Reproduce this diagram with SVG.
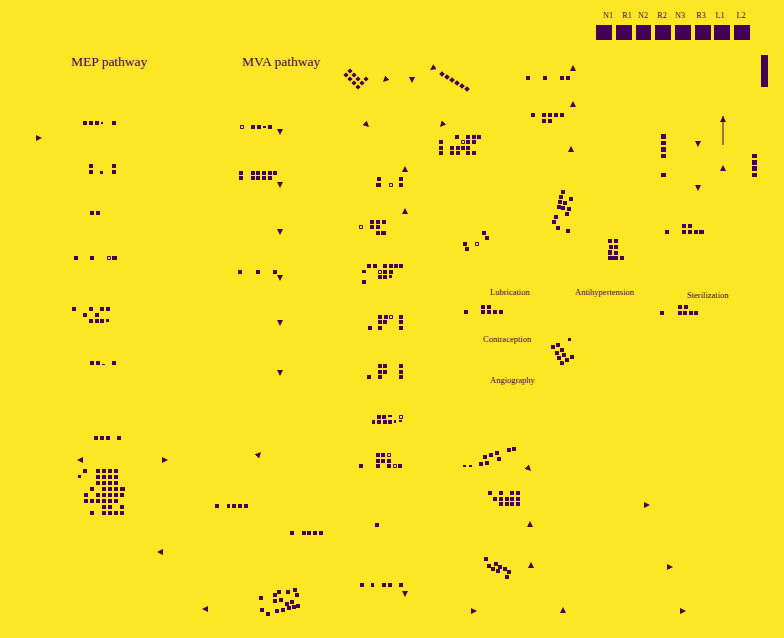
<svg xmlns="http://www.w3.org/2000/svg" width="784" height="638" viewBox="0 0 784 638">
<style>
.c{fill:#440154}
.h{fill:none;stroke:#440154;stroke-width:1}
.t{font-family:"Liberation Serif","Times New Roman",serif;fill:#440154}
.ln{fill:none;stroke:#fbe426;stroke-width:1}
.lv{fill:none;stroke:#440154;stroke-width:1}
</style>
<defs>
<marker id="ah" viewBox="0 0 6 6" refX="6" refY="3" markerWidth="6" markerHeight="6" orient="auto" markerUnits="userSpaceOnUse"><path d="M0,0L6,3L0,6z" fill="#440154"/></marker>
</defs>
<rect width="784" height="638" fill="#fde725"/>

<g id="legend">
<path class="c" d="M596,25h16v15h-16z M616,25h16v15h-16z M636,25h15v15h-15z M655,25h16v15h-16z M675,25h16v15h-16z M695,25h16v15h-16z M714,25h16v15h-16z M734,25h16v15h-16z"/>
<g class="t" font-size="8" text-anchor="middle">
<text x="608" y="18">N1</text><text x="627" y="18">R1</text><text x="643" y="18">N2</text><text x="662" y="18">R2</text><text x="680" y="18">N3</text><text x="701" y="18">R3</text><text x="720" y="18">L1</text><text x="741" y="18">L2</text>
</g>
<rect class="c" x="761" y="55" width="7" height="32"/>
</g>

<g id="titles" class="t" font-size="13.5">
<text x="71" y="66">MEP pathway</text>
<text x="242" y="66">MVA pathway</text>
</g>

<g id="mep1"><path class="c" d="M83,121h4v4h-4z M89,121h4v4h-4z M95,121h4v4h-4z M101,122h2v2h-2z M112,121h4v4h-4z"/></g>
<g id="mep2"><path class="c" d="M89,164h4v4h-4z M112,164h4v4h-4z M89,170h4v4h-4z M100,171h3v3h-3z M112,170h4v4h-4z"/></g>
<g id="mep3"><path class="c" d="M90,211h4v4h-4z M96,211h4v4h-4z"/></g>
<g id="mep4"><path class="c" d="M74,256h4v4h-4z M90,256h4v4h-4z M112,256h5v4h-5z"/><path class="h" d="M107.5,256.5h3v3h-3z"/></g>
<g id="mep5"><path class="c" d="M72,307h4v4h-4z M89,307h4v4h-4z M100,307h4v4h-4z M106,307h4v4h-4z M83,313h4v4h-4z M95,313h4v4h-4z M89,319h4v4h-4z M95,319h4v4h-4z M100,319h4v4h-4z M106,319h3v3h-3z"/></g>
<g id="mep6"><path class="c" d="M90,361h4v4h-4z M96,361h4v4h-4z M112,361h4v4h-4z M102,364h3v1h-3z"/></g>
<g id="mep7"><path class="c" d="M94,436h4v4h-4z M100,436h4v4h-4z M106,436h4v4h-4z M117,436h4v4h-4z"/></g>
<g id="mep8"><path class="c" d="M83,469h4v4h-4z M96,469h4v4h-4z M102,469h4v4h-4z M108,469h4v4h-4z M114,469h4v4h-4z
M78,475h3v3h-3z M96,475h4v4h-4z M102,475h4v4h-4z M108,475h4v4h-4z M114,475h4v4h-4z
M96,481h4v4h-4z M102,481h4v4h-4z M108,481h4v4h-4z M114,481h4v4h-4z
M90,487h4v4h-4z M102,487h4v4h-4z M108,487h4v4h-4z M114,487h4v4h-4z M120,487h5v4h-5z
M84,493h4v4h-4z M96,493h4v4h-4z M102,493h4v4h-4z M108,493h4v4h-4z M114,493h4v4h-4z M120,493h4v4h-4z
M84,499h4v4h-4z M90,499h4v4h-4z M96,499h4v4h-4z M102,499h4v4h-4z M108,499h4v4h-4z M114,499h4v4h-4z
M102,505h4v4h-4z M108,505h4v4h-4z M120,505h4v4h-4z
M90,511h4v4h-4z M102,511h4v4h-4z M108,511h4v4h-4z M114,511h4v4h-4z M120,511h4v4h-4z"/></g>
<g id="mid1"><path class="c" d="M215,504h4v4h-4z M227,504h3v4h-3z M232,504h4v4h-4z M238,504h4v4h-4z M244,504h4v4h-4z"/></g>
<g id="mid2"><path class="c" d="M290,531h4v4h-4z M302,531h4v4h-4z M307,531h4v4h-4z M313,531h4v4h-4z M319,531h4v4h-4z"/></g>
<g id="cluster-bl"><path class="c" d="M259,596h4v4h-4z M273,593h4v4h-4z M277,590h4v4h-4z M286,590h4v4h-4z M293,588h4v4h-4z M295,593h4v4h-4z M273,599h4v4h-4z M279,598h4v4h-4z M285,602h4v4h-4z M290,600h4v4h-4z M296,604h4v4h-4z M260,608h4v4h-4z M266,612h4v4h-4z M275,609h4v4h-4z M281,608h4v4h-4z M287,606h4v4h-4z M292,605h4v4h-4z"/></g>

<g id="mva1"><path class="c" d="M251,125h4v4h-4z M257,125h4v4h-4z M263,126h3v2h-3z M268,125h4v4h-4z"/><path class="h" d="M240.5,125.5h3v3h-3z"/></g>
<g id="mva2"><path class="c" d="M239,171h4v4h-4z M251,171h4v4h-4z M256,171h4v4h-4z M262,171h4v4h-4z M268,171h4v4h-4z M273,171h4v4h-4z M239,176h4v4h-4z M251,176h4v4h-4z M256,176h4v4h-4z M262,176h4v4h-4z M268,176h4v4h-4z"/></g>
<g id="mva3"><path class="c" d="M238,270h4v4h-4z M256,270h4v4h-4z M273,270h4v4h-4z"/></g>

<g id="diamond-top"><path class="c" d="M350,68.4l2.6,2.6l-2.6,2.6l-2.6,-2.6z M346,72.4l2.6,2.6l-2.6,2.6l-2.6,-2.6z M354,72.4l2.6,2.6l-2.6,2.6l-2.6,-2.6z M350,76.4l2.6,2.6l-2.6,2.6l-2.6,-2.6z M358,76.4l2.6,2.6l-2.6,2.6l-2.6,-2.6z M366,76.4l2.6,2.6l-2.6,2.6l-2.6,-2.6z M354,80.4l2.6,2.6l-2.6,2.6l-2.6,-2.6z M362,80.4l2.6,2.6l-2.6,2.6l-2.6,-2.6z M358,84.4l2.6,2.6l-2.6,2.6l-2.6,-2.6z"/></g>
<g id="chain"><path class="c" d="M442,71.2l2.8,2.8l-2.8,2.8l-2.8,-2.8z M447,74.2l2.8,2.8l-2.8,2.8l-2.8,-2.8z M452,77.2l2.8,2.8l-2.8,2.8l-2.8,-2.8z M457,80.2l2.8,2.8l-2.8,2.8l-2.8,-2.8z M462,83.2l2.8,2.8l-2.8,2.8l-2.8,-2.8z M467,86.2l2.8,2.8l-2.8,2.8l-2.8,-2.8z"/></g>

<g id="c1"><path class="c" d="M455,135h4v4h-4z M466,135h4v4h-4z M472,135h4v4h-4z M477,135h4v4h-4z M439,140h4v4h-4z M466,140h4v4h-4z M472,140h4v4h-4z M439,146h4v4h-4z M450,146h4v4h-4z M456,146h4v4h-4z M461,146h4v4h-4z M466,146h4v4h-4z M439,151h4v4h-4z M450,151h4v4h-4z M456,151h4v4h-4z M466,151h4v4h-4z M472,151h4v4h-4z"/><path class="h" d="M461.5,140.5h3v3h-3z"/></g>
<g id="c2"><path class="c" d="M526,76h4v4h-4z M543,76h4v4h-4z M560,76h4v4h-4z M566,76h4v4h-4z"/></g>
<g id="c3"><path class="c" d="M531,113h4v4h-4z M542,113h4v4h-4z M548,113h4v4h-4z M554,113h4v4h-4z M560,113h4v4h-4z M542,119h4v4h-4z M548,119h4v4h-4z"/></g>
<g id="c4"><path class="c" d="M377,177h4v4h-4z M399,177h4v4h-4z M376,183h5v4h-5z M399,183h4v4h-4z"/><path class="h" d="M389.5,183.5h3v3h-3z"/></g>
<g id="c5"><path class="c" d="M370,220h4v4h-4z M376,220h4v4h-4z M382,220h4v4h-4z M370,225h4v4h-4z M376,225h4v4h-4z M376,231h4v4h-4z M381,231h5v4h-5z"/><path class="h" d="M359.5,225.5h3v3h-3z"/></g>
<g id="c6"><path class="c" d="M367,264h4v4h-4z M373,264h4v4h-4z M383,264h4v4h-4z M389,264h4v4h-4z M394,264h4v4h-4z M399,264h4v4h-4z M362,270h4v3h-4z M383,270h4v4h-4z M389,270h4v4h-4z M378,275h4v4h-4z M383,275h4v4h-4z M389,275h3v3h-3z M362,280h4v4h-4z"/><path class="h" d="M378.5,270.5h3v3h-3z"/></g>
<g id="c7"><path class="c" d="M378,315h4v4h-4z M384,315h4v4h-4z M399,315h4v4h-4z M378,320h4v4h-4z M383,320h4v4h-4z M399,320h4v4h-4z M368,326h4v4h-4z M378,326h4v4h-4z M399,326h4v4h-4z"/><path class="h" d="M389.5,315.5h3v3h-3z"/></g>
<g id="c8"><path class="c" d="M378,364h4v4h-4z M383,364h4v4h-4z M399,364h4v4h-4z M378,370h4v4h-4z M383,370h4v4h-4z M399,370h4v4h-4z M367,375h4v4h-4z M378,375h4v4h-4z M399,375h4v4h-4z"/></g>
<g id="c9"><path class="c" d="M377,415h4v4h-4z M382,415h4v4h-4z M388,415h4v2h-4z M372,420h3v4h-3z M377,420h4v4h-4z M383,420h4v4h-4z M388,420h4v4h-4z M394,420h2v3h-2z M399,420h3v2h-3z"/><path class="h" d="M399.5,415.5h3v3h-3z"/></g>
<g id="c10"><path class="c" d="M376,453h4v4h-4z M381,453h4v4h-4z M376,459h4v4h-4z M381,459h4v4h-4z M387,459h4v4h-4z M359,464h4v4h-4z M376,464h4v4h-4z M387,464h4v4h-4z M398,464h4v4h-4z"/><path class="h" d="M387.5,453.5h3v3h-3z M393.5,464.5h3v3h-3z"/></g>
<g id="c11"><path class="c" d="M375,523h4v4h-4z"/></g>
<g id="c12"><path class="c" d="M360,583h4v4h-4z M371,583h3v4h-3z M382,583h4v4h-4z M388,583h4v4h-4z M399,583h4v4h-4z"/></g>

<g id="diag1"><path class="c" d="M561,190h4v4h-4z M559,195h4v4h-4z M569,197h4v4h-4z M558,200h4v4h-4z M563,201h4v4h-4z M557,205h4v4h-4z M561,206h4v4h-4z M567,207h4v4h-4z M565,212h4v4h-4z M554,215h4v4h-4z M552,220h4v4h-4z M556,226h4v4h-4z M566,229h4v4h-4z"/></g>
<g id="cluster-s"><path class="c" d="M482,231h4v4h-4z M485,236h4v4h-4z M463,242h4v4h-4z M465,247h4v4h-4z"/><path class="h" d="M475.5,242.5h3v3h-3z"/></g>
<g id="r1"><path class="c" d="M661,134h5v5h-5z M661,141h5v4h-5z M661,147h5v5h-5z M661,154h5v4h-5z M661,173h5v4h-5z"/></g>
<g id="r2"><path class="c" d="M752,154h5v4h-5z M752,160h5v5h-5z M752,166h5v5h-5z M752,173h5v4h-5z"/></g>
<g id="r3"><path class="c" d="M682,224h4v4h-4z M688,224h4v4h-4z M665,230h4v4h-4z M682,230h4v4h-4z M688,230h4v4h-4z M694,230h4v4h-4z M699,230h5v4h-5z"/></g>
<g id="r4"><path class="c" d="M608,239h4v4h-4z M614,239h4v4h-4z M609,245h4v4h-4z M614,245h4v4h-4z M608,250h4v5h-4z M614,251h4v4h-4z M608,256h10v4h-10z M620,256h4v4h-4z"/></g>
<g id="r5"><path class="c" d="M481,305h4v4h-4z M487,305h4v4h-4z M464,310h4v4h-4z M481,310h4v4h-4z M487,310h4v4h-4z M493,310h4v4h-4z M499,310h4v4h-4z"/></g>
<g id="r6"><path class="c" d="M678,305h4v4h-4z M684,305h4v4h-4z M660,311h4v4h-4z M678,311h4v4h-4z M683,311h4v4h-4z M689,311h4v4h-4z M694,311h4v4h-4z"/></g>
<g id="diag2"><path class="c" d="M551,345h4v4h-4z M556,343h4v4h-4z M560,348h4v4h-4z M555,351h4v4h-4z M562,353h4v4h-4z M557,356h4v4h-4z M565,358h4v4h-4z M560,361h4v4h-4z M570,355h4v4h-4z M568,338h3v3h-3z"/></g>
<g id="diag3"><path class="c" d="M483,455h4v4h-4z M489,453h4v4h-4z M495,451h4v4h-4z M497,457h4v4h-4z M485,461h4v4h-4z M479,462h4v4h-4z M507,448h4v4h-4z M512,447h4v4h-4z M463,465h3v2h-3z M469,465h3v2h-3z"/></g>
<g id="r7"><path class="c" d="M488,491h4v4h-4z M499,491h4v4h-4z M510,491h4v4h-4z M516,491h4v4h-4z M493,497h4v4h-4z M499,497h4v4h-4z M505,497h4v4h-4z M510,497h4v4h-4z M516,497h4v4h-4z M499,502h4v4h-4z M505,502h4v4h-4z M510,502h4v4h-4z M516,502h4v4h-4z"/></g>
<g id="diag4"><path class="c" d="M484,557h4v4h-4z M487,564h4v4h-4z M494,562h4v4h-4z M491,567h4v4h-4z M498,565h4v4h-4z M496,569h4v4h-4z M503,567h4v4h-4z M507,570h4v4h-4z M505,575h4v4h-4z"/></g>

<g id="labels" class="t" font-size="8.5">
<text x="490" y="295">Lubrication</text>
<text x="575" y="295">Antihypertension</text>
<text x="687" y="298">Sterilization</text>
<text x="483" y="342">Contraception</text>
<text x="490" y="383">Angiography</text>
</g>

<g id="connectors">
<path class="ln" marker-end="url(#ah)" d="M280,112V135"/>
<path class="ln" marker-end="url(#ah)" d="M280,150V188"/>
<path class="ln" marker-end="url(#ah)" d="M280,200V235"/>
<path class="ln" marker-end="url(#ah)" d="M280,245V281"/>
<path class="ln" marker-end="url(#ah)" d="M280,292V326"/>
<path class="ln" marker-end="url(#ah)" d="M280,340V376"/>
<path class="ln" marker-end="url(#ah)" d="M20,138H42"/>
<path class="ln" marker-end="url(#ah)" d="M95,460H77"/>
<path class="ln" marker-end="url(#ah)" d="M140,460H168"/>
<path class="ln" marker-end="url(#ah)" d="M240,475L261,452"/>
<path class="ln" marker-end="url(#ah)" d="M180,552H157"/>
<path class="ln" marker-end="url(#ah)" d="M230,609H202"/>
<path class="ln" marker-end="url(#ah)" d="M345,104L369,127"/>
<path class="ln" marker-end="url(#ah)" d="M395,70L383,82"/>
<path class="ln" marker-end="url(#ah)" d="M412,65V83"/>
<path class="ln" marker-end="url(#ah)" d="M445,60L430,70"/>
<path class="ln" marker-end="url(#ah)" d="M455,110L440,127"/>
<path class="ln" marker-end="url(#ah)" d="M573,90V65"/>
<path class="ln" marker-end="url(#ah)" d="M573,125V101"/>
<path class="ln" marker-end="url(#ah)" d="M571,170V146"/>
<path class="ln" marker-end="url(#ah)" d="M405,190V166"/>
<path class="ln" marker-end="url(#ah)" d="M405,240V208"/>
<path class="ln" marker-end="url(#ah)" d="M698,120V147"/>
<path class="ln" marker-end="url(#ah)" d="M698,165V191"/>
<path class="lv" marker-end="url(#ah)" d="M723,145V116"/>
<path class="ln" marker-end="url(#ah)" d="M723,190V165"/>
<path class="ln" marker-end="url(#ah)" d="M520,460L531,471"/>
<path class="ln" marker-end="url(#ah)" d="M600,505H650"/>
<path class="ln" marker-end="url(#ah)" d="M530,540V521"/>
<path class="ln" marker-end="url(#ah)" d="M531,585V562"/>
<path class="ln" marker-end="url(#ah)" d="M620,567H673"/>
<path class="ln" marker-end="url(#ah)" d="M440,611H477"/>
<path class="ln" marker-end="url(#ah)" d="M640,611H686"/>
<path class="ln" marker-end="url(#ah)" d="M563,630V607"/>
<path class="ln" marker-end="url(#ah)" d="M405,575V597"/>
</g>
</svg>
